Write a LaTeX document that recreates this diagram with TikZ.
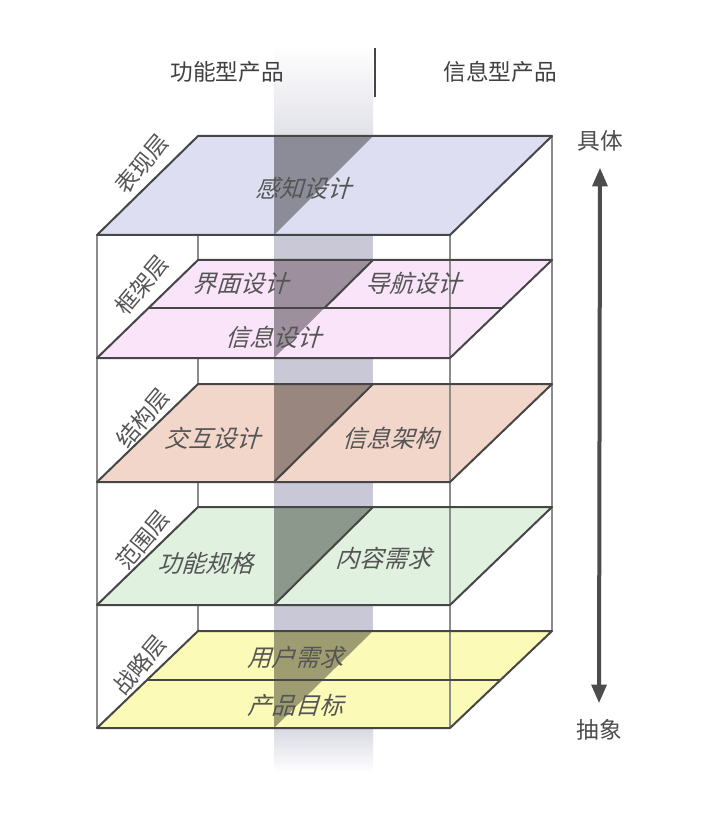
\documentclass[tikz,border=0pt]{standalone}
\usepackage{fontspec}
\setmainfont{Noto Sans CJK SC}
\newfontfamily\cjkup{Noto Sans CJK SC}
\newfontfamily\cjksl[FakeSlant=0.3]{Noto Sans CJK SC}
\usetikzlibrary{arrows.meta}
\definecolor{pTop}{RGB}{222,222,242}
\definecolor{pFrame}{RGB}{249,228,249}
\definecolor{pStruct}{RGB}{243,214,202}
\definecolor{pScope}{RGB}{224,241,224}
\definecolor{pStrat}{RGB}{251,250,182}
\definecolor{bandgray}{RGB}{200,200,214}
\definecolor{edgegray}{RGB}{70,70,70}
\definecolor{postgray}{RGB}{140,140,140}
\definecolor{txtgray}{RGB}{85,85,85}
\tikzset{
  planeedge/.style={draw=edgegray, line width=1.5pt, line join=round},
  post/.style={draw=postgray, line width=1.1pt},
  darkpart/.style={fill=black, fill opacity=0.37},
  planetext/.style={font=\cjksl\fontsize{18}{21}\selectfont, text=txtgray, inner sep=0pt},
  layertext/.style={font=\cjkup\fontsize{17}{20}\selectfont, text=txtgray, inner sep=0pt, rotate=50},
  headtext/.style={font=\cjkup\fontsize{17}{20}\selectfont, text=black!75, inner sep=0pt},
  sidetext/.style={font=\cjkup\fontsize{17}{20}\selectfont, text=black!70, inner sep=0pt}
}
\begin{document}
\begin{tikzpicture}[x=0.75pt,y=-0.75pt]
\useasboundingbox (0,0) rectangle (720,816);
\fill[white] (0,0) rectangle (720,816);

% back posts
\draw[post] (198,136) -- (198,631);
\draw[post] (552,136) -- (552,631);

% central band
\shade[top color=white, bottom color=bandgray!55] (274,45) rectangle (373,136);
\fill[bandgray] (274,136) rectangle (373,728);
\shade[top color=bandgray!70, bottom color=white] (274,728) rectangle (373,772);

% planes
\foreach \b/\f/\c in {136/235/pTop, 260/358/pFrame, 384/482/pStruct, 507/605/pScope, 631/728/pStrat} {
  \fill[\c] (97,\f) -- (450,\f) -- (552,\b) -- (198,\b) -- cycle;
  \fill[darkpart] (274,\b) -- (373,\b) -- (274,\f) -- cycle;
}

% front posts
\draw[post] (97,235) -- (97,728);
\draw[post] (450,235) -- (450,728);

% plane outlines
\foreach \b/\f in {136/235, 260/358, 384/482, 507/605, 631/728} {
  \draw[planeedge] (97,\f) -- (450,\f) -- (552,\b) -- (198,\b) -- cycle;
}
% inner dividers
\draw[planeedge] (148.5,308) -- (502.5,308);
\draw[planeedge] (373,260) -- (324.5,308);
\draw[planeedge] (373,384) -- (274,482);
\draw[planeedge] (373,507) -- (274,605);
\draw[planeedge] (147,680) -- (501,680);

% plane texts
\node[planetext] (ganzhi) at (303,188) {感知设计};
\node[planetext] (jiemian) at (240,283) {界面设计};
\node[planetext] (daohang) at (413,283) {导航设计};
\node[planetext] (xinxisj) at (273,337) {信息设计};
\node[planetext] (jiaohu) at (212,438) {交互设计};
\node[planetext] (xinxijg) at (390,438) {信息架构};
\node[planetext] (gongneng) at (205,563) {功能规格};
\node[planetext] (neirong) at (383,558) {内容需求};
\node[planetext] (yonghu) at (295,657) {用户需求};
\node[planetext] (chanpin) at (295,705) {产品目标};

% layer labels
\node[layertext] (biaoxian) at (142,164) {表现层};
\node[layertext] (kuangjia) at (142,285) {框架层};
\node[layertext] (jiegou) at (143,418) {结构层};
\node[layertext] (fanwei) at (143,540) {范围层};
\node[layertext] (zhanlue) at (140,665) {战略层};

% heading
\node[headtext] (gongnengxing) at (227,72) {功能型产品};
\node[headtext] (xinxixing) at (500,72) {信息型产品};
\coordinate (sepTop) at (375,48);
\coordinate (sepBot) at (375,97);
\draw[edgegray, line width=1.2pt] (sepTop) -- (sepBot);

% right axis
\node[sidetext] (juti) at (600,141) {具体};
\node[sidetext] (chouxiang) at (599,730) {抽象};
\draw[draw=black!70, line width=3pt, {Triangle[length=14pt,width=11pt]}-{Triangle[length=14pt,width=11pt]}]
  ([yshift=-12pt]juti.south) -- ([yshift=12pt]chouxiang.north);
\end{tikzpicture}
\end{document}
